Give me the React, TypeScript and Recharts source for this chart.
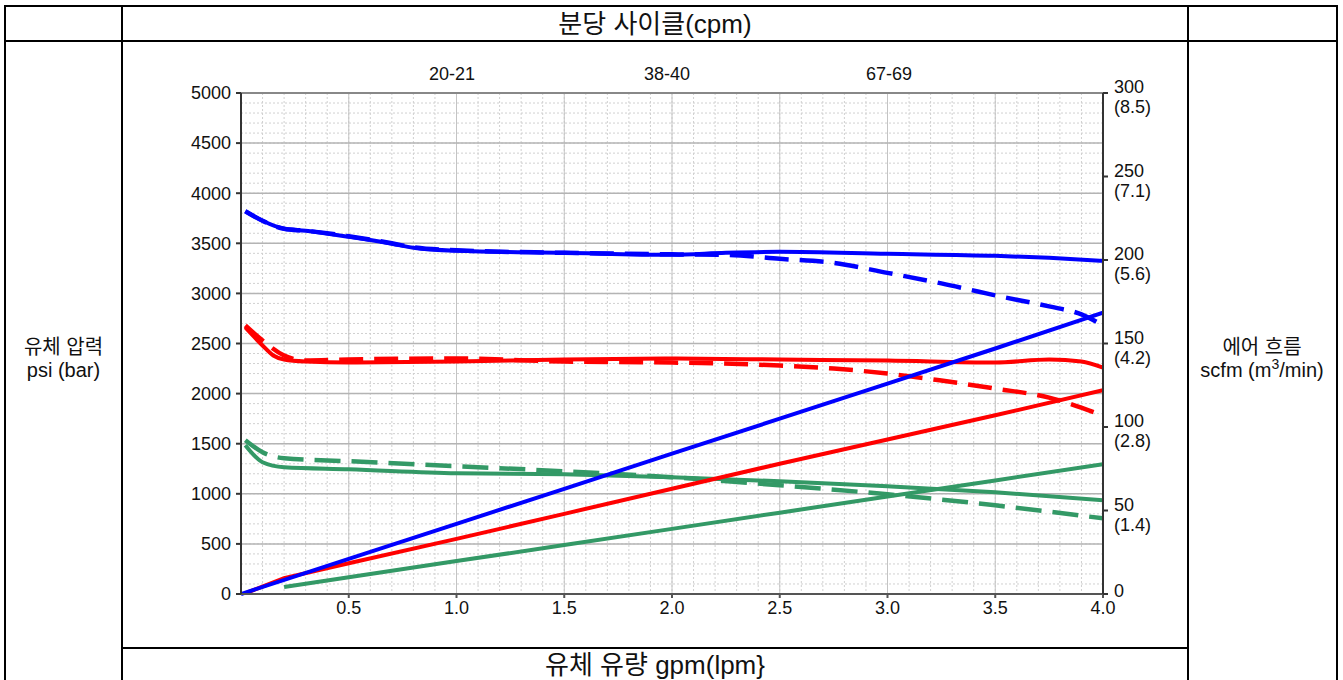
import React from "react";
import { LineChart, Line, XAxis, YAxis, CartesianGrid, ReferenceLine } from "recharts";

// ---- Data ----
const xTicks = [0.5, 1.0, 1.5, 2.0, 2.5, 3.0, 3.5, 4.0];
const leftTicks = [0, 500, 1000, 1500, 2000, 2500, 3000, 3500, 4000, 4500, 5000];
const rightTicks = [0, 50, 100, 150, 200, 250, 300];
const rightSubLabels = ["", "(1.4)", "(2.8)", "(4.2)", "(5.6)", "(7.1)", "(8.5)"];
const cycleLabels = ["20-21", "38-40", "67-69"];
const titleTop = "분당 사이클(cpm)";
const titleBottom = "유체 유량 gpm(lpm}";

// fluid pressure curves (psi)
const blueSolidGpm = [0.02, 0.1, 0.2, 0.3, 0.5, 0.7, 0.8, 1.0, 1.5, 2.0, 2.25, 2.5, 3.0, 3.5, 3.75, 4.0];
const blueSolidPsi = [3820, 3725, 3645, 3625, 3565, 3495, 3455, 3425, 3405, 3385, 3405, 3415, 3395, 3375, 3355, 3325];
const blueDashGpm = [0.02, 0.1, 0.2, 0.3, 0.5, 0.7, 0.8, 1.0, 1.5, 2.0, 2.25, 2.5, 2.75, 3.0, 3.25, 3.5, 3.75, 3.9, 4.0];
const blueDashPsi = [3820, 3725, 3645, 3625, 3570, 3500, 3460, 3430, 3405, 3390, 3385, 3345, 3305, 3205, 3100, 2980, 2870, 2790, 2680];

const redSolidGpm = [0.02, 0.1, 0.15, 0.2, 0.3, 0.5, 1.0, 1.5, 2.0, 2.5, 3.0, 3.5, 3.75, 3.9, 4.0];
const redSolidPsi = [2660, 2480, 2380, 2340, 2320, 2310, 2320, 2340, 2350, 2340, 2330, 2310, 2340, 2320, 2260];
const redDashGpm = [0.02, 0.1, 0.2, 0.3, 0.5, 1.0, 1.5, 2.0, 2.5, 2.75, 3.0, 3.25, 3.5, 3.75, 4.0];
const redDashPsi = [2680, 2530, 2380, 2330, 2340, 2350, 2320, 2310, 2280, 2250, 2200, 2130, 2050, 1960, 1780];

const greenSolidGpm = [0.02, 0.1, 0.2, 0.5, 1.0, 1.5, 2.0, 2.5, 3.0, 3.5, 4.0];
const greenSolidPsi = [1485, 1315, 1265, 1245, 1205, 1195, 1165, 1125, 1075, 1015, 935];
const greenDashGpm = [0.02, 0.1, 0.2, 0.5, 1.0, 1.5, 2.0, 2.5, 3.0, 3.5, 4.0];
const greenDashPsi = [1535, 1415, 1355, 1325, 1275, 1225, 1165, 1085, 995, 885, 755];

// air flow lines (scfm)
const blueAirGpm = [0, 0.5, 1.0, 1.5, 2.0, 2.5, 3.0, 3.5, 4.0];
const blueAirScfm = [0, 21, 42, 63, 84, 105, 126, 147, 168.5];
const redAirGpm = [0.03, 0.2, 0.5, 1.0, 1.5, 2.0, 2.5, 3.0, 3.5, 4.0];
const redAirScfm = [1, 9.5, 18.4, 33, 48, 63, 78, 92.5, 107, 122];
const greenAirGpm = [0.2, 0.5, 1.0, 1.5, 2.0, 2.5, 3.0, 3.5, 4.0];
const greenAirScfm = [4.2, 10, 19.7, 29.3, 39, 48.7, 58.4, 68, 77.7];

const minorX = Array.from({ length: 41 }, (_, i) => Math.round(i * 10) / 100);
const minorY = Array.from({ length: 51 }, (_, i) => i * 100);

const zip = (xs: number[], ys: number[]) => xs.map((x, i) => ({ gpm: x, v: ys[i] }));

const BLUE = "#0000ff";
const RED = "#ff0000";
const GREEN = "#339966";
const FONT = '"Liberation Sans", Arial, "Noto Sans CJK KR", sans-serif';
const KFONT = '"Liberation Sans", "Noto Sans CJK KR", sans-serif';

const RightTick = (props: any) => {
  const { x, y, payload } = props;
  const idx = rightTicks.indexOf(payload.value);
  const sub = rightSubLabels[idx] || "";
  if (!sub) {
    return (
      <text x={x} y={y} dy={3} fontSize={18} fill="#111" fontFamily={FONT} textAnchor="start">
        {payload.value}
      </text>
    );
  }
  return (
    <g>
      <text x={x} y={y} dy={0} fontSize={18} fill="#111" fontFamily={FONT} textAnchor="start">
        {payload.value}
      </text>
      <text x={x} y={y} dy={20} fontSize={18} fill="#111" fontFamily={FONT} textAnchor="start">
        {sub}
      </text>
    </g>
  );
};

const lineStyle = { position: "absolute" as const, background: "#000" };

export default function App() {
  return (
    <div style={{ position: "absolute", left: 0, top: 0, width: 1343, height: 680, background: "#fff", overflow: "hidden", fontFamily: KFONT }}>
      {/* table borders */}
      <div style={{ ...lineStyle, left: 5, top: 5, width: 1333, height: 2 }} />
      <div style={{ ...lineStyle, left: 5, top: 40, width: 1333, height: 2 }} />
      <div style={{ ...lineStyle, left: 4, top: 5, width: 2, height: 680 }} />
      <div style={{ ...lineStyle, left: 121, top: 5, width: 2, height: 680 }} />
      <div style={{ ...lineStyle, left: 1187, top: 5, width: 2, height: 680 }} />
      <div style={{ ...lineStyle, left: 1336, top: 5, width: 2, height: 680 }} />
      <div style={{ ...lineStyle, left: 122, top: 647, width: 1066, height: 2 }} />

      {/* titles */}
      <div style={{ position: "absolute", left: 122, width: 1066, top: 9, textAlign: "center", fontSize: 26, lineHeight: "30px", color: "#111" }}>
        {titleTop}
      </div>
      <div style={{ position: "absolute", left: 122, width: 1066, top: 650, textAlign: "center", fontSize: 26, lineHeight: "30px", color: "#111" }}>
        {titleBottom}
      </div>
      <div style={{ position: "absolute", left: 5, width: 117, top: 336, textAlign: "center", fontSize: 20, lineHeight: "23px", color: "#111" }}>
        유체 압력<br />psi (bar)
      </div>
      <div style={{ position: "absolute", left: 1188, width: 148, top: 336, textAlign: "center", fontSize: 20, lineHeight: "23px", color: "#111" }}>
        에어 흐름<br />scfm (m<sup style={{ fontSize: 14, lineHeight: 0 }}>3</sup>/min)
      </div>

      {/* cycle labels */}
      {cycleLabels.map((t, i) => (
        <div key={t} style={{ position: "absolute", left: [412, 627, 849][i], width: 80, top: 64, textAlign: "center", fontSize: 18, lineHeight: "20px", fontFamily: FONT, color: "#111" }}>
          {t}
        </div>
      ))}

      <div style={{ position: "absolute", left: 0, top: 0 }}>
        <LineChart width={1343} height={680} margin={{ top: 93, right: 160, bottom: 56, left: 181 }}>
          <CartesianGrid
            horizontalValues={minorY}
            verticalValues={minorX}
            stroke="#d0d0d0"
            strokeDasharray="2 2"
            strokeWidth={1}
          />
          <CartesianGrid horizontal={false} verticalValues={xTicks} stroke="#c4c4c4" strokeWidth={1} />
          <CartesianGrid vertical={false} horizontalValues={leftTicks} stroke="#b4b4b4" strokeWidth={1.5} />
          <XAxis
            dataKey="gpm"
            type="number"
            domain={[0, 4]}
            ticks={xTicks}
            tickFormatter={(v: number) => v.toFixed(1)}
            allowDataOverflow
            height={30}
            stroke="#555"
            strokeWidth={2}
            tickSize={4}
            tickMargin={3}
            tick={{ fontSize: 18, fill: "#111", fontFamily: FONT }}
            interval={0}
          />
          <YAxis
            type="number"
            domain={[0, 5000]}
            ticks={leftTicks}
            width={60}
            stroke="#333"
            strokeWidth={2}
            tickSize={5}
            tickMargin={5}
            tick={{ fontSize: 18, fill: "#111", fontFamily: FONT }}
            interval={0}
          />
          <YAxis
            yAxisId="right"
            orientation="right"
            type="number"
            domain={[0, 300]}
            ticks={rightTicks}
            width={80}
            stroke="#333"
            strokeWidth={2}
            tickSize={5}
            tickMargin={6}
            tick={<RightTick />}
            interval={0}
          />
          <ReferenceLine y={5000} stroke="#888" strokeWidth={2} />

          <Line data={zip(blueDashGpm, blueDashPsi)} dataKey="v" type="monotone" stroke={BLUE} strokeWidth={4.5} strokeDasharray="24 11" dot={false} isAnimationActive={false} />
          <Line data={zip(redDashGpm, redDashPsi)} dataKey="v" type="monotone" stroke={RED} strokeWidth={4.5} strokeDasharray="24 11" dot={false} isAnimationActive={false} />
          <Line data={zip(greenDashGpm, greenDashPsi)} dataKey="v" type="monotone" stroke={GREEN} strokeWidth={4.5} strokeDasharray="26 11" dot={false} isAnimationActive={false} />

          <Line data={zip(blueSolidGpm, blueSolidPsi)} dataKey="v" type="monotone" stroke={BLUE} strokeWidth={4} dot={false} isAnimationActive={false} />
          <Line data={zip(redSolidGpm, redSolidPsi)} dataKey="v" type="monotone" stroke={RED} strokeWidth={4} dot={false} isAnimationActive={false} />
          <Line data={zip(greenSolidGpm, greenSolidPsi)} dataKey="v" type="monotone" stroke={GREEN} strokeWidth={4} dot={false} isAnimationActive={false} />

          <Line yAxisId="right" data={zip(greenAirGpm, greenAirScfm)} dataKey="v" type="linear" stroke={GREEN} strokeWidth={4} dot={false} isAnimationActive={false} />
          <Line yAxisId="right" data={zip(redAirGpm, redAirScfm)} dataKey="v" type="linear" stroke={RED} strokeWidth={4} dot={false} isAnimationActive={false} />
          <Line yAxisId="right" data={zip(blueAirGpm, blueAirScfm)} dataKey="v" type="linear" stroke={BLUE} strokeWidth={4} dot={false} isAnimationActive={false} />
        </LineChart>
      </div>
    </div>
  );
}
